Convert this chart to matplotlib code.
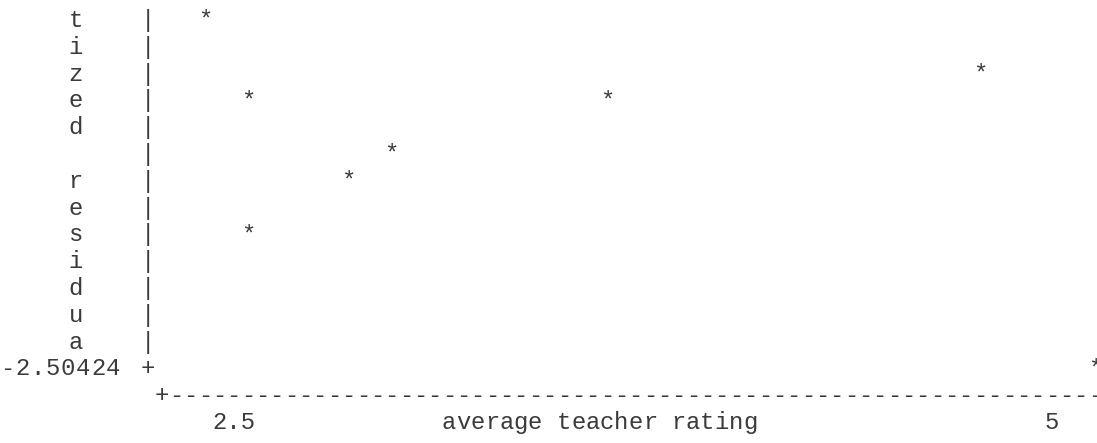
import matplotlib
matplotlib.use("Agg")
import matplotlib.pyplot as plt
from matplotlib.transforms import Affine2D, blended_transform_factory

# ---------------- data ----------------
rating = [2.412, 2.544, 2.544, 2.851, 2.982, 3.640, 4.781, 5.132]
resid = [1.79, 0.80, -0.86, -0.19, 0.14, 0.80, 1.13, -2.50424]
x_ticks = [2.5, 5]
x_tick_labels = ["2.5", "5"]
y_ticks = [-2.50424]
y_tick_labels = ["-2.50424"]
x_title = "average teacher rating"
y_title = "studentized residual"

# ---------------- text-grid layout ----------------
W, H, DPI = 1097, 443, 100
FONT = "Liberation Mono"
COL_W = 14.355          # px per character column
ROW_H = 26.8            # px per text row
COL0 = 4.0              # px centre of column 0
BASE0 = 27.0            # px from top of baseline of row 0
FS = COL_W / 0.6 * 72 / DPI
INK = "#3a3a3a"

AXIS_COL = 10           # column of the vertical axis
TICK_COLS = [16, 73]    # columns where the x tick values sit
TICK_ROW = 13           # row of the y tick value
Y_PER_ROW = 0.33        # residual units per text row
TITLE_ROW0 = -6         # row of first letter of y title (cropped above)
XAXIS_ROW = 14
XLAB_ROW = 15
XTITLE_COL = 31
YLAB_START = 0.2        # column of first char of y tick label
YLAB_STEP = 1.06        # column advance inside y tick label

x_per_col = (x_ticks[1] - x_ticks[0]) / (TICK_COLS[1] - TICK_COLS[0])


def x_of_col(c):
    return x_ticks[0] + (c - TICK_COLS[0]) * x_per_col


def y_of_row(r):
    return y_ticks[0] + (TICK_ROW - r) * Y_PER_ROW


fig = plt.figure(figsize=(W / DPI, H / DPI), dpi=DPI)
fig.patch.set_facecolor("white")
ax = fig.add_axes([0, 0, 1, 1])
ax.axis("off")
ax.set_xlim(x_of_col((0 - COL0) / COL_W), x_of_col((W - COL0) / COL_W))
ax.set_ylim(y_of_row((H - BASE0) / ROW_H), y_of_row((0 - BASE0) / ROW_H))

grid_tf = Affine2D().scale(COL_W, -ROW_H).translate(COL0, H - BASE0)
xrow_tf = blended_transform_factory(ax.transData, grid_tf)

style = dict(fontfamily=FONT, fontsize=FS, color=INK,
             ha="center", va="baseline")


def put(col, row, ch):
    if ch != " " and row >= 0:
        fig.text(col, row, ch, transform=grid_tf, **style)


# y title, written vertically
tick_rows = [TICK_ROW]
for i, ch in enumerate(y_title):
    r = TITLE_ROW0 + i
    if r not in tick_rows:
        put(5, r, ch)

# vertical axis
for r in range(0, TICK_ROW + 1):
    put(AXIS_COL, r, "+" if r in tick_rows else "|")

# y tick labels, before the axis
for lab, r in zip(y_tick_labels, tick_rows):
    for j, ch in enumerate(lab):
        put(YLAB_START + j * YLAB_STEP, r, ch)

# horizontal axis
put(AXIS_COL + 1, XAXIS_ROW, "+")
for c in range(AXIS_COL + 2, 80):
    put(c, XAXIS_ROW, "-")

# x tick labels
for v, lab in zip(x_ticks, x_tick_labels):
    ax.text(v, XLAB_ROW, lab, transform=xrow_tf, **style)

# x title
for j, ch in enumerate(x_title):
    put(XTITLE_COL + j, XLAB_ROW, ch)

# data points
for xv, yv in zip(rating, resid):
    ax.text(xv, yv, "*", **style)

fig.savefig("out.png", dpi=DPI, facecolor="white")
